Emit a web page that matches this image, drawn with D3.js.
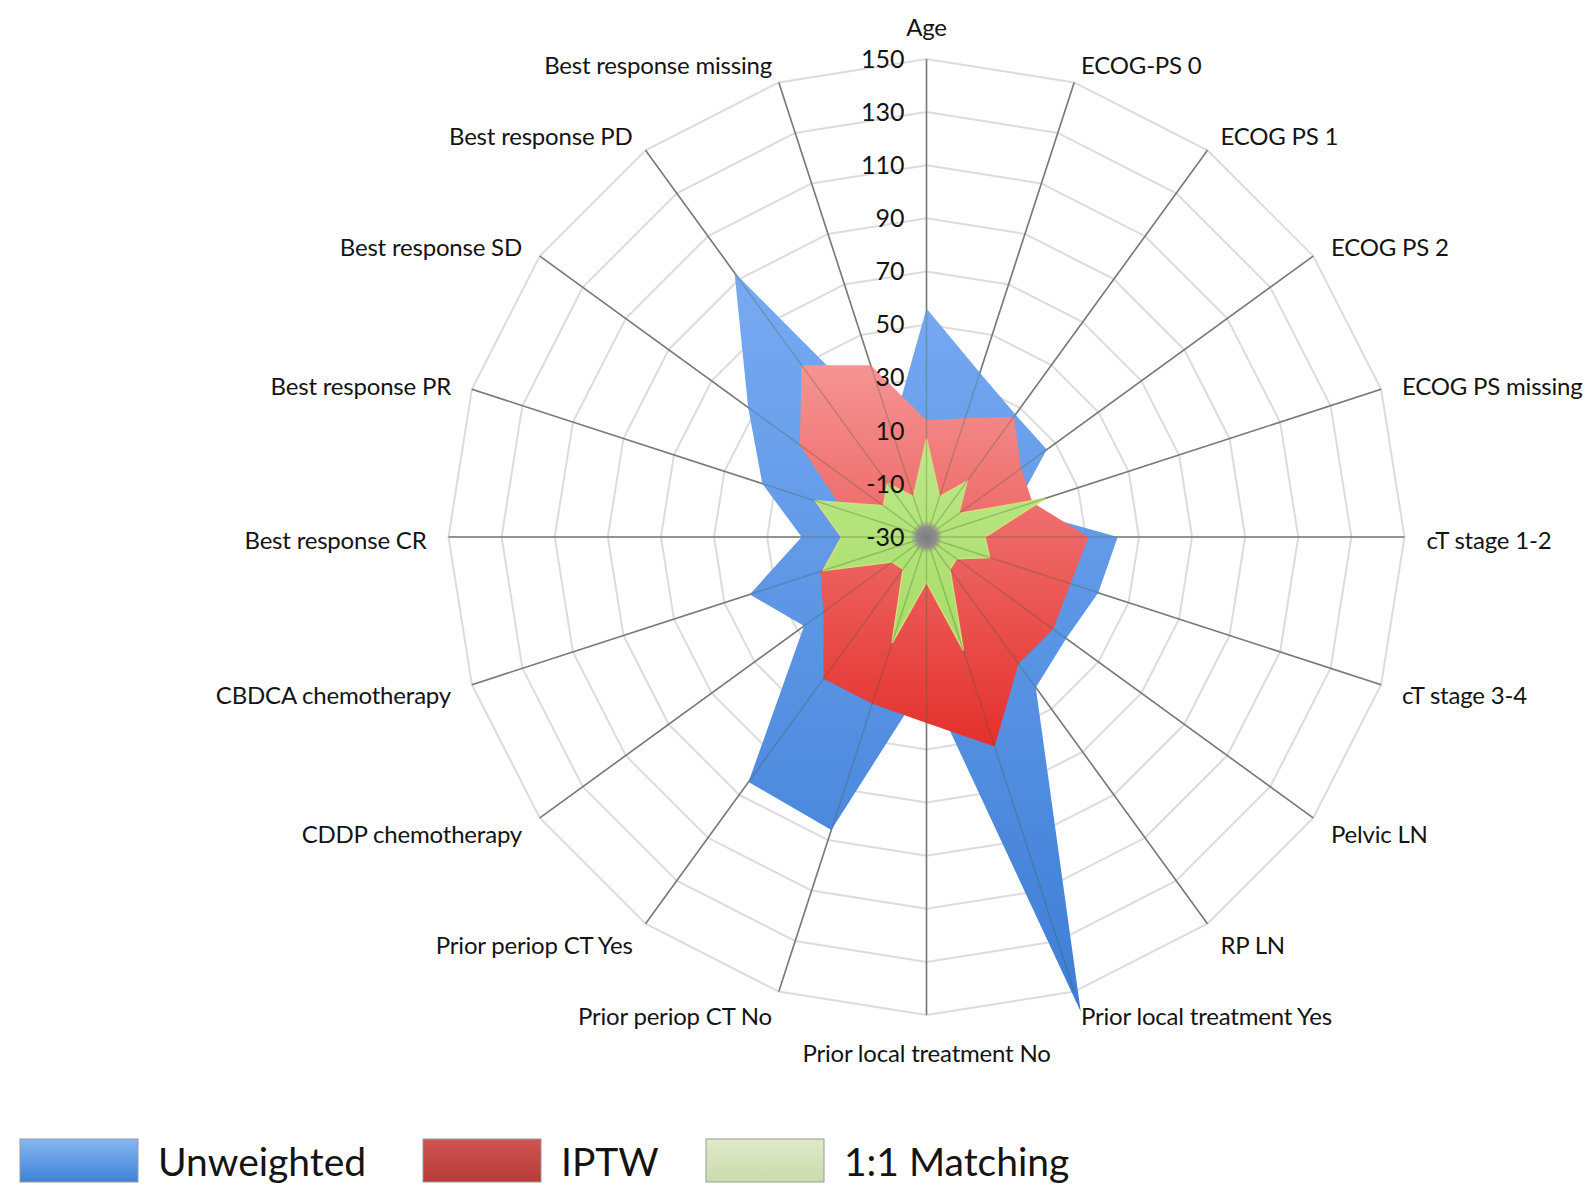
<!DOCTYPE html>
<html>
<head>
<meta charset="utf-8">
<script src="https://cdn.jsdelivr.net/npm/d3@7"></script>
<style>
body{margin:0;background:#fff}
svg{display:block}
text{font-family:Lato,"Open Sans",sans-serif;fill:#141414}
</style>
</head>
<body>
<svg id="chart"></svg>
<script>
// axes, clockwise from the top
var categories = ["Age","ECOG-PS 0","ECOG PS 1","ECOG PS 2","ECOG PS missing",
    "cT stage 1-2","cT stage 3-4","Pelvic LN","RP LN","Prior local treatment Yes",
    "Prior local treatment No","Prior periop CT No","Prior periop CT Yes","CDDP chemotherapy",
    "CBDCA chemotherapy","Best response CR","Best response PR","Best response SD",
    "Best response PD","Best response missing"];

var unweighted = [56,35,27,26,5,42,38,35,40,158,24,86,84,27,40,17,35,53,93,12];
var iptw       = [14,17,26,14,12,31,27,29,29,53,40,36,36,18,12,0,3,29,50,38];
var matching   = [7,-14,-4,-15,17,-8,-5,-16,-15,15,-13,12,-15,-14,11,2,14,-10,-5,-14];

var tickValues = [-30,-10,10,30,50,70,90,110,130,150];
var seriesNames = ["Unweighted","IPTW","1:1 Matching"];

var W = 1587, H = 1186;
var cx = 926.5, cy = 537, R = 478;

var svg = d3.select("#chart").attr("width", W).attr("height", H);

var defs = svg.append("defs");
var makeGrad = function(id, top, bottom)
{
    var g = defs.append("linearGradient").attr("id", id)
        .attr("x1",0).attr("y1",0).attr("x2",0).attr("y2",1);
    g.append("stop").attr("offset","0%").attr("stop-color",top);
    g.append("stop").attr("offset","100%").attr("stop-color",bottom);
}
makeGrad("gBlue", "#78aaf2", "#3d7ed6");
makeGrad("gRed", "#f59494", "#e4302c");
makeGrad("gGreen", "#bde88a", "#a6dc66");
makeGrad("lBlue", "#86b6f2", "#3f82d6");
makeGrad("lRed", "#cf5552", "#b83a37");
makeGrad("lGreen", "#dfe9c8", "#cbdcab");
var rg = defs.append("radialGradient").attr("id","gDot");
rg.append("stop").attr("offset","0%").attr("stop-color","#7d7d7d");
rg.append("stop").attr("offset","60%").attr("stop-color","#8c8c8c");
rg.append("stop").attr("offset","100%").attr("stop-color","#8c8c8c").attr("stop-opacity",0);

var n = categories.length;
var angle = d3.scaleLinear().domain([0, n]).range([0, 2*Math.PI]);
var r = d3.scaleLinear().domain([-30, 150]).range([0, R]);

var g = svg.append("g").attr("transform", "translate("+cx+","+cy+")");

// grid rings (20-gons)
var ring = d3.lineRadial().curve(d3.curveLinearClosed);
g.selectAll(".ring")
    .data(tickValues.slice(1))
    .enter()
    .append("path")
    .attr("d", function(t){ return ring(categories.map(function(c,i){ return [angle(i), r(t)]; })); })
    .attr("fill","none")
    .attr("stroke","#dcdcdc")
    .attr("stroke-width",2);

// spokes
var spokeEnd = function(i, rad){ return [rad*Math.sin(angle(i)), -rad*Math.cos(angle(i))]; }
g.selectAll(".spoke")
    .data(categories)
    .enter()
    .append("line")
    .attr("x1",0).attr("y1",0)
    .attr("x2",function(d,i){ return spokeEnd(i,R)[0]; })
    .attr("y2",function(d,i){ return spokeEnd(i,R)[1]; })
    .attr("stroke","#8a8a8a")
    .attr("stroke-width",1.6);

// series
var area = d3.lineRadial()
    .angle(function(d,i){ return angle(i); })
    .radius(function(d){ return r(d); })
    .curve(d3.curveLinearClosed);

g.append("path").attr("d", area(unweighted)).attr("fill","url(#gBlue)");
g.append("path").attr("d", area(iptw)).attr("fill","url(#gRed)");
g.append("path").attr("d", area(matching)).attr("fill","url(#gGreen)")
    .attr("stroke","#d2df7a").attr("stroke-width",1.5);

// spokes seen through the fills
g.selectAll(".spokeTop")
    .data(categories)
    .enter()
    .append("line")
    .attr("x1",0).attr("y1",0)
    .attr("x2",function(d,i){ return spokeEnd(i,R)[0]; })
    .attr("y2",function(d,i){ return spokeEnd(i,R)[1]; })
    .attr("stroke","#3a5a2a")
    .attr("stroke-opacity",0.28)
    .attr("stroke-width",1.4);

g.append("circle").attr("r",16).attr("fill","url(#gDot)");

// tick labels along the Age axis
g.selectAll(".tick")
    .data(tickValues)
    .enter()
    .append("text")
    .attr("x",-22)
    .attr("y",function(t){ return -r(t); })
    .attr("dy","0.35em")
    .attr("text-anchor","end")
    .attr("font-size",25)
    .text(function(t){ return t; });

// category labels
g.selectAll(".cat")
    .data(categories)
    .enter()
    .append("text")
    .attr("font-size",24)
    .attr("letter-spacing",-0.2)
    .attr("x",function(d,i){ return spokeEnd(i,R+22)[0]; })
    .attr("y",function(d,i){
        var p = spokeEnd(i,R+22);
        var s = Math.sin(angle(i)), c = Math.cos(angle(i));
        return Math.abs(s) < 0.01 ? p[1] - c*13 + 4 : p[1] + 4;
    })
    .attr("dy","0.35em")
    .attr("text-anchor",function(d,i){
        var s = Math.sin(angle(i));
        return Math.abs(s) < 0.01 ? "middle" : (s > 0 ? "start" : "end");
    })
    .text(function(d){ return d; });

// legend
var legendX = [20, 423, 706];
var legendFill = ["url(#lBlue)","url(#lRed)","url(#lGreen)"];
var legend = svg.append("g");
legend.selectAll("rect")
    .data(seriesNames)
    .enter()
    .append("rect")
    .attr("x",function(d,i){ return legendX[i]; })
    .attr("y",1139)
    .attr("width",118)
    .attr("height",43)
    .attr("fill",function(d,i){ return legendFill[i]; })
    .attr("stroke","#9a9a9a")
    .attr("stroke-width",1);
legend.selectAll("text")
    .data(seriesNames)
    .enter()
    .append("text")
    .attr("x",function(d,i){ return legendX[i]+138; })
    .attr("y",1162)
    .attr("dy","0.35em")
    .attr("font-size",39)
    .text(function(d){ return d; });
</script>
</body>
</html>
